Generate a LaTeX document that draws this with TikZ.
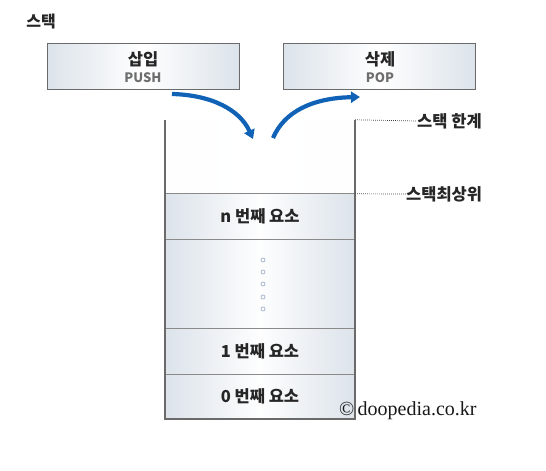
\documentclass[tikz,border=0pt]{standalone}
\usepackage{fontspec}
\setmainfont{Noto Sans CJK KR}
\newfontfamily\serifc{Liberation Serif}
\usetikzlibrary{arrows.meta}
\definecolor{arrowblue}{HTML}{0F62B5}
\definecolor{cellside}{HTML}{DCE3EA}
\definecolor{wallgray}{HTML}{6A6A6A}
\definecolor{linegray}{HTML}{8A8A8A}
\definecolor{dotblue}{HTML}{A8B8CC}
\definecolor{subgray}{HTML}{6E6E6E}
\tikzset{
  opbox/.style={draw=wallgray, line width=1pt, left color=cellside, right color=cellside, middle color=white,
    minimum width=192pt, minimum height=46pt, inner sep=0pt},
  cell/.style={left color=cellside, right color=cellside, middle color=white!96!cellside,
    minimum width=190pt, inner sep=0pt, font=\bfseries\fontsize{16.5}{16.5}\selectfont, text=black!85},
  sidelabel/.style={anchor=west, inner sep=0pt, font=\bfseries\fontsize{16.5}{16.5}\selectfont, text=black!85},
  leader/.style={dash pattern=on 0.7pt off 1.3pt, line width=0.7pt, black!75},
  bigarrow/.style={arrowblue, line width=4.2pt, -{Triangle[length=9pt,width=11pt]}},
  ring/.style={draw=dotblue, line width=0.8pt, circle, minimum size=4pt, inner sep=0pt}
}
\begin{document}
\begin{tikzpicture}[x=1pt,y=-1pt]
\useasboundingbox (0,0) rectangle (546,471);
% title
\node[inner sep=0pt, font=\bfseries\fontsize{16}{16}\selectfont, text=black!85] (title) at (41,22) {스택};
% operation boxes
\node[opbox] (push) at (143,66) {};
\node[font=\bfseries\fontsize{16.5}{16.5}\selectfont, text=black!85] (pushk) at (143,59) {삽입};
\node[font=\bfseries\fontsize{13}{13}\selectfont, text=subgray] (pushe) at (143,78) {PUSH};
\node[opbox] (pop) at (379.5,66) {};
\node[font=\bfseries\fontsize{16.5}{16.5}\selectfont, text=black!85] (popk) at (380,59) {삭제};
\node[font=\bfseries\fontsize{13}{13}\selectfont, text=subgray] (pope) at (380,78) {POP};
% stack interior
\node[left color=white!96!cellside, right color=white!96!cellside, middle color=white, minimum width=190pt, minimum height=74pt, inner sep=0pt] (empty) at (260,157) {};
\node[cell, minimum height=45pt] (celln) at (260,216.5) {n 번째 요소};
\node[cell, minimum height=90pt] (celldots) at (260,284) {};
\node[cell, minimum height=45pt] (cell1) at (260,351.5) {1 번째 요소};
\node[cell, minimum height=45pt] (cell0) at (260,396.5) {0 번째 요소};
% dots
\foreach \y/\n in {260/a,272/b,284/c,297/d,309/e}{
  \node[ring] (dot\n) at (263,\y) {};
}
% separators
\draw[linegray, line width=0.8pt] (celln.north west) -- (celln.north east);
\draw[linegray, line width=0.8pt] (celln.south west) -- (celln.south east);
\draw[linegray, line width=0.8pt] (cell1.north west) -- (cell1.north east);
\draw[linegray, line width=0.8pt] (cell1.south west) -- (cell1.south east);
% walls
\draw[wallgray, line width=1.8pt] (empty.north west) -- (cell0.south west) -- (cell0.south east) -- (empty.north east);
% labels on the right
\node[sidelabel] (limit) at (417,121) {스택 한계};
\node[sidelabel] (topl) at (406,194) {스택최상위};
\draw[leader] (empty.north east) -- (limit.west);
\draw[leader] (celln.north east) -- (topl.west);
% arrows
\coordinate (pushs) at (172,94);
\coordinate (pushe2) at (253,139);
\coordinate (pops) at (273,138);
\coordinate (pope2) at (360,97);
\draw[bigarrow] (pushs) .. controls (212,95) and (240,110) .. (pushe2);
\draw[bigarrow] (pops) .. controls (284,112) and (312,98) .. (pope2);
% copyright
\node[anchor=west, inner sep=0pt, font=\serifc\fontsize{20}{20}\selectfont, text=black!90] (copy) at (339,411) {©\,doopedia.co.kr};
\end{tikzpicture}
\end{document}
